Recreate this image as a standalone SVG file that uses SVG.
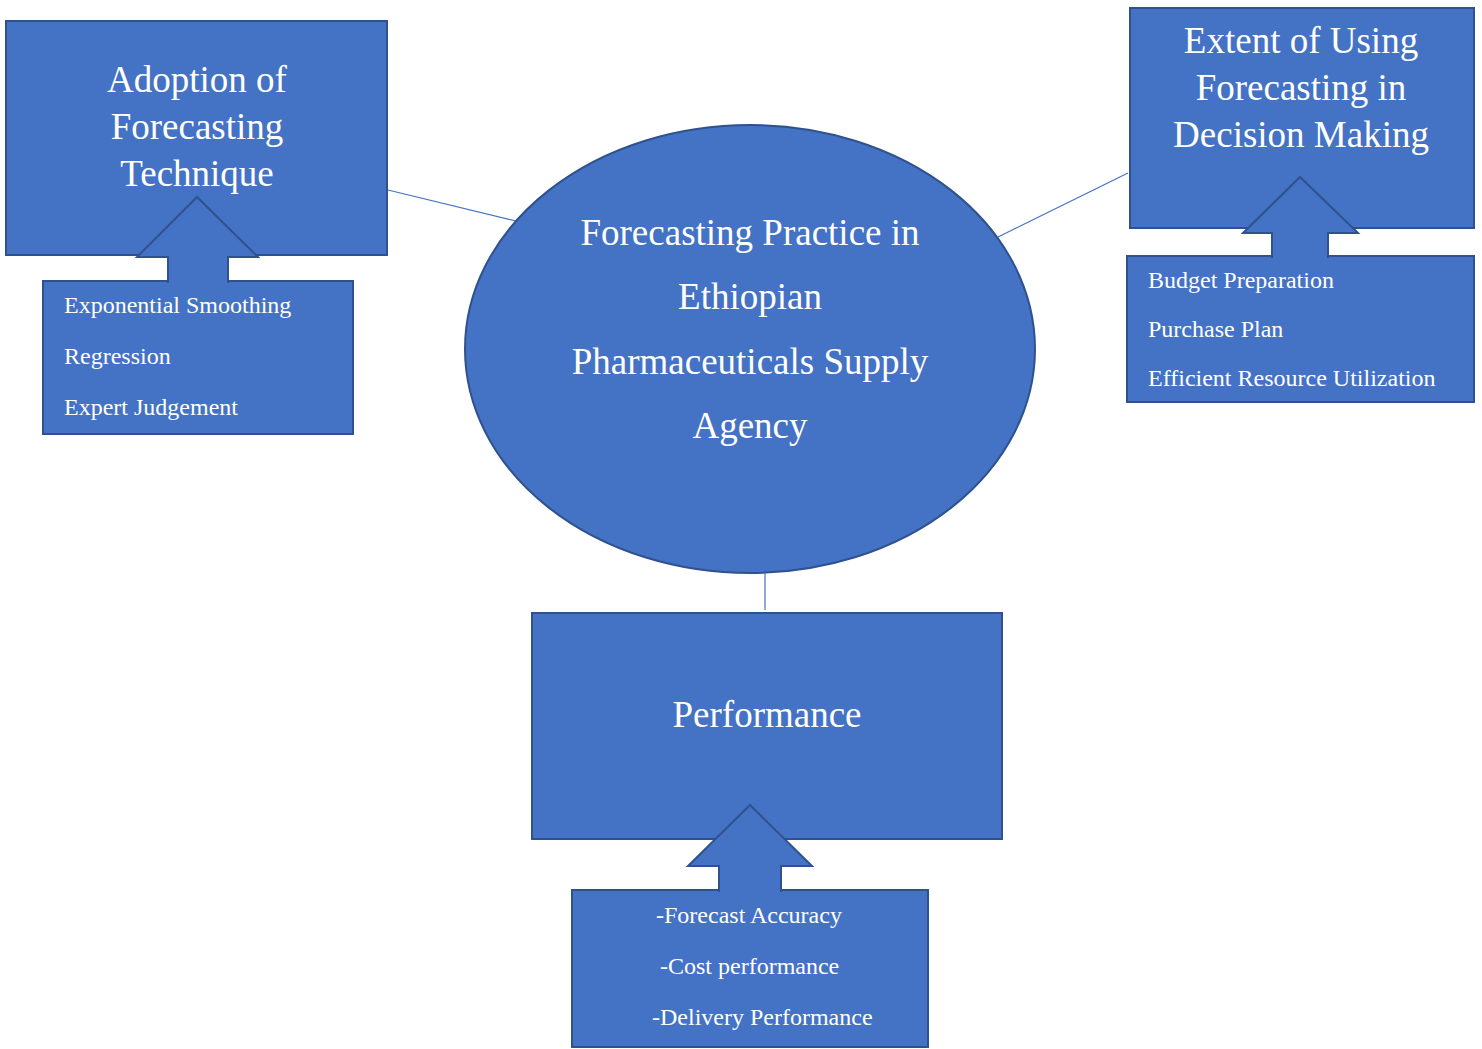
<svg xmlns="http://www.w3.org/2000/svg" width="1482" height="1049" viewBox="0 0 1482 1049">
<style>
.box{fill:#4472C4;stroke:#2F528F;stroke-width:2}
.arrow{fill:#4472C4;stroke:#2F528F;stroke-width:2;stroke-linejoin:miter}
.conn{stroke:#4472C4;stroke-width:1.2;fill:none}
.big{font-family:"Liberation Serif","Times New Roman",serif;font-size:37px;fill:#FFFFFF;text-anchor:middle}
.small{font-family:"Liberation Serif","Times New Roman",serif;font-size:24px;fill:#FFFFFF}
</style>
<rect width="1482" height="1049" fill="#FFFFFF"/>
<g id="connectors">
<line class="conn" x1="388" y1="190" x2="516" y2="221"/>
<line class="conn" x1="998" y1="237" x2="1128" y2="173"/>
<line class="conn" x1="765" y1="573" x2="765" y2="610"/>
</g>
<g id="adoption">
<rect class="box" x="6" y="21" width="381" height="234"/>
<text class="big" x="197" y="92">Adoption of</text>
<text class="big" x="197" y="139">Forecasting</text>
<text class="big" x="197" y="186">Technique</text>
</g>
<g id="adoption-items">
<rect class="box" x="43" y="281" width="310" height="153"/>
<text class="small" x="64" y="313">Exponential Smoothing</text>
<text class="small" x="64" y="364">Regression</text>
<text class="small" x="64" y="415">Expert Judgement</text>
</g>
<g id="adoption-arrow">
<path class="arrow" d="M168,283 L168,257 L137,257 L197,197 L258,257 L228,257 L228,283"/>
</g>
<g id="extent">
<rect class="box" x="1130" y="8" width="344" height="220"/>
<text class="big" x="1301" y="53">Extent of Using</text>
<text class="big" x="1301" y="100">Forecasting in</text>
<text class="big" x="1301" y="147">Decision Making</text>
</g>
<g id="extent-items">
<rect class="box" x="1127" y="256" width="347" height="146"/>
<text class="small" x="1148" y="288">Budget Preparation</text>
<text class="small" x="1148" y="337">Purchase Plan</text>
<text class="small" x="1148" y="386">Efficient Resource Utilization</text>
</g>
<g id="extent-arrow">
<path class="arrow" d="M1272,258 L1272,233 L1243,233 L1300,177 L1358,233 L1328,233 L1328,258"/>
</g>
<g id="center">
<ellipse class="box" cx="750" cy="349" rx="285" ry="224"/>
<text class="big" x="750" y="245">Forecasting Practice in</text>
<text class="big" x="750" y="309">Ethiopian</text>
<text class="big" x="750" y="374">Pharmaceuticals Supply</text>
<text class="big" x="750" y="438">Agency</text>
</g>
<g id="performance">
<rect class="box" x="532" y="613" width="470" height="226"/>
<text class="big" x="767" y="727">Performance</text>
</g>
<g id="performance-items">
<rect class="box" x="572" y="890" width="356" height="157"/>
<text class="small" x="656" y="923">-Forecast Accuracy</text>
<text class="small" x="660" y="974">-Cost performance</text>
<text class="small" x="652" y="1025">-Delivery Performance</text>
</g>
<g id="performance-arrow">
<path class="arrow" d="M719,892 L719,866 L688,866 L750,805 L812,866 L781,866 L781,892"/>
</g>
</svg>
